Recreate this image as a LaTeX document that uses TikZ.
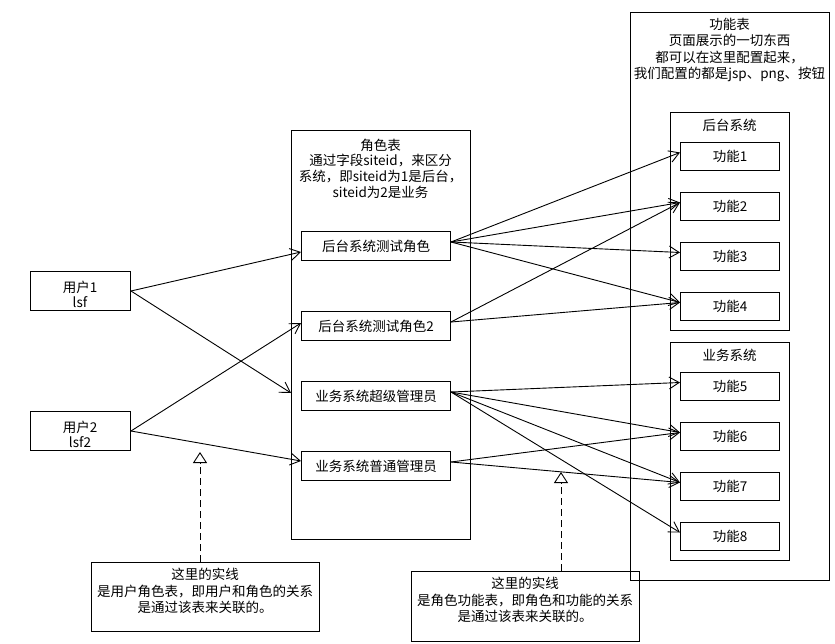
\documentclass[tikz,border=0pt]{standalone}
\usepackage{fontspec}
\setmainfont{Noto Sans CJK SC}
\usetikzlibrary{arrows.meta,calc}
\begin{document}
\begin{tikzpicture}[x=1pt,y=-1pt,
  box/.style={draw,line width=1pt,rectangle,inner sep=0pt,anchor=north west},
  txt/.style={inner sep=0pt,align=center,font=\fontsize{13.5}{16.5}\selectfont},
  fnbox/.style={box,txt,minimum width=99pt,minimum height=28pt},
  rolebox/.style={box,txt,minimum width=149pt,minimum height=29pt},
  userbox/.style={box,minimum width=100pt,minimum height=39pt},
  conn/.style={line width=0.9pt,-{Straight Barb[length=10pt,width=12pt]}},
  notelink/.style={line width=0.9pt,dash pattern=on 7pt off 4pt,-{Triangle[open,length=11pt,width=14pt,line width=0.9pt]}}]
\useasboundingbox (0,0) rectangle (835,644);

% function table
\node[box,minimum width=199pt,minimum height=568pt] (fout) at (630,12) {};
\node[txt] (fhead) at (729.5,50) {功能表\\页面展示的一切东西\\都可以在这里配置起来，\\我们配置的都是jsp、png、按钮};
\node[box,minimum width=119pt,minimum height=218pt] (fb) at (670,112) {};
\node[txt] (fblabel) at (729.5,125) {后台系统};
\node[box,minimum width=119pt,minimum height=218pt] (fy) at (670,342) {};
\node[txt] (fylabel) at (729.5,355) {业务系统};
\node[fnbox] (f1) at (680,142) {功能1};
\node[fnbox] (f2) at (680,192) {功能2};
\node[fnbox] (f3) at (680,242) {功能3};
\node[fnbox] (f4) at (680,292) {功能4};
\node[fnbox] (f5) at (680,372) {功能5};
\node[fnbox] (f6) at (680,422) {功能6};
\node[fnbox] (f7) at (680,472) {功能7};
\node[fnbox] (f8) at (680,522) {功能8};

% role table
\node[box,minimum width=179pt,minimum height=409pt] (roles) at (291,130) {};
\node[txt,font=\fontsize{13.5}{15.7}\selectfont] (rhead) at (380.5,168.5) {角色表\\通过字段siteid，来区分\\系统，即siteid为1是后台，\\siteid为2是业务};
\node[rolebox] (r1) at (301,231) {后台系统测试角色};
\node[rolebox] (r2) at (301,311) {后台系统测试角色2};
\node[rolebox] (r3) at (301,381) {业务系统超级管理员};
\node[rolebox] (r4) at (301,451) {业务系统普通管理员};

% users
\node[userbox] (u1) at (30,271) {};
\node[txt,font=\fontsize{13.5}{15}\selectfont] (u1t) at (80,294) {用户1\\lsf};
\node[userbox] (u2) at (30,411) {};
\node[txt,font=\fontsize{13.5}{15}\selectfont] (u2t) at (80,434) {用户2\\lsf2};

% notes
\node[box,minimum width=228pt,minimum height=69pt] (n1) at (91,562) {};
\node[txt] (n1t) at (205,591) {这里的实线\\是用户角色表，即用户和角色的关系\\是通过该表来关联的。};
\node[box,minimum width=228pt,minimum height=70pt] (n2) at (411,571) {};
\node[txt] (n2t) at (525,600) {这里的实线\\是角色功能表，即角色和功能的关系\\是通过该表来关联的。};

\coordinate (t1) at (200,452);
\coordinate (t2) at (561,472);
\draw[notelink] (n1.north -| t1) -- (t1);
\draw[notelink] (n2.north -| t2) -- (t2);

% user -> role
\draw[conn] (u1.east) -- ($(r1.west)+(0,6)$);
\draw[conn] (u1.east) -- ($(roles.west|-r3.west)+(0,-3)$);
\draw[conn] (u2.east) -- ($(r2.west)+(0,-3)$);
\draw[conn] (u2.east) -- ($(r4.west)+(0,-5)$);

% role -> function
\foreach \r/\f in {r1/f1,r1/f2,r1/f3,r1/f4,r2/f2,r2/f4,r3/f5,r3/f6,r3/f7,r3/f8,r4/f6,r4/f7}
  \draw[conn] ($(\r.east)+(0,-4)$) -- ($(\f.west)+(0,-4)$);
\end{tikzpicture}
\end{document}
